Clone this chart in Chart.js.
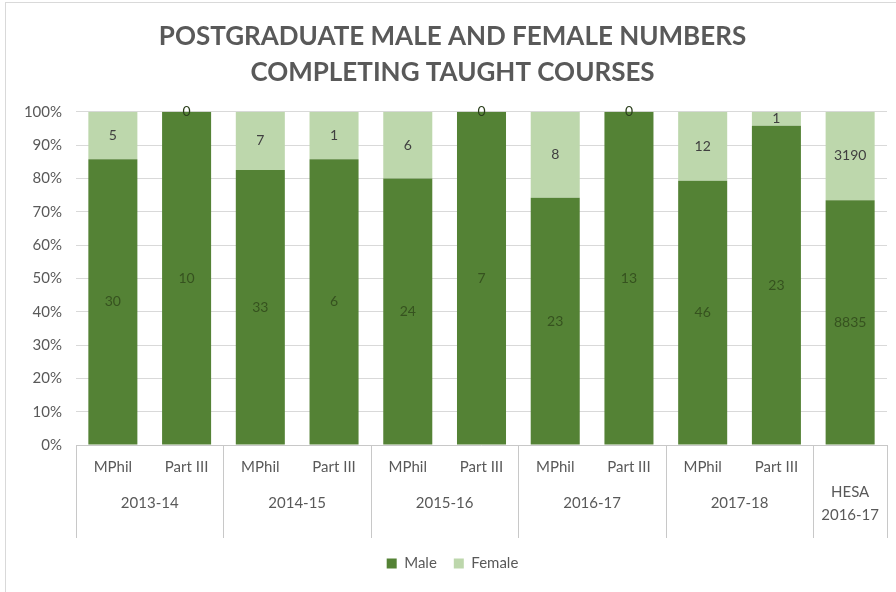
<!DOCTYPE html>
<html>
<head>
<meta charset="utf-8">
<script src="https://cdn.jsdelivr.net/npm/chart.js@4"></script>
<style>
  html, body { margin: 0; padding: 0; background: #fff; overflow: hidden; }
  #wrap { position: relative; width: 896px; height: 592px; }
  #frame { position: absolute; left: 5px; top: 2px; width: 900px; height: 600px;
           border-left: 1px solid #d9d9d9; border-top: 1px solid #d9d9d9; pointer-events: none; }
</style>
</head>
<body>
<div id="wrap">
  <canvas id="grafico-alunos" width="896" height="592"></canvas>
  <div id="frame"></div>
</div>
<script>
// contagens por curso e ano
const courseLabels = ['MPhil', 'Part III', 'MPhil', 'Part III', 'MPhil', 'Part III',
                      'MPhil', 'Part III', 'MPhil', 'Part III', ''];
const groupLabels = ['2013-14', '2014-15', '2015-16', '2016-17', '2017-18', ['HESA', '2016-17']];
const groupSizes = [2, 2, 2, 2, 2, 1];
const maleCounts = [30, 10, 33, 6, 24, 7, 23, 13, 46, 23, 8835];
const femaleCounts = [5, 0, 7, 1, 6, 0, 8, 0, 12, 1, 3190];
const yTicks = [0, 10, 20, 30, 40, 50, 60, 70, 80, 90, 100];

const corTexto = '#595959';
const corGrade = '#d9d9d9';
const fonte = 'Lato, "Open Sans", sans-serif';

const totais = maleCounts.map((m, i) => m + femaleCounts[i]);
const malePct = maleCounts.map((m, i) => m / totais[i] * 100);
const femalePct = femaleCounts.map((f, i) => f / totais[i] * 100);

// numeros dentro de cada segmento
const rotulosBarras = {
    id: 'rotulosBarras',
    afterDatasetsDraw(chart) {
        const ctx = chart.ctx;
        ctx.save();
        ctx.font = '14px ' + fonte;
        ctx.textAlign = 'center';
        ctx.textBaseline = 'middle';
        chart.data.datasets.forEach((ds, di) => {
            const meta = chart.getDatasetMeta(di);
            meta.data.forEach((bar, i) => {
                const y = (bar.y + bar.base) / 2;
                ctx.fillStyle = di === 0 ? '#36521f' : '#404040';
                if (ds.counts[i] === 0) ctx.fillStyle = '#2b3f1c';
                ctx.fillText(ds.counts[i], bar.x, y);
            });
        });
        ctx.restore();
    }
};

// eixo x em dois niveis: caixas dos anos
const eixoAgrupado = {
    id: 'eixoAgrupado',
    afterDraw(chart) {
        const ctx = chart.ctx;
        const x = chart.scales.x;
        const area = chart.chartArea;
        const fundo = 538;
        ctx.save();
        ctx.strokeStyle = '#c8c8c8';
        ctx.lineWidth = 1;
        ctx.beginPath();
        ctx.moveTo(area.left, area.bottom + 0.5);
        ctx.lineTo(area.right, area.bottom + 0.5);
        ctx.stroke();

        const passo = (area.right - area.left) / courseLabels.length;
        let inicio = 0;
        ctx.font = '15px ' + fonte;
        ctx.fillStyle = corTexto;
        ctx.textAlign = 'center';
        ctx.textBaseline = 'middle';
        groupLabels.forEach((g, gi) => {
            const fim = inicio + groupSizes[gi] - 1;
            const esq = x.getPixelForValue(inicio) - passo / 2;
            const dir = x.getPixelForValue(fim) + passo / 2;
            [esq, dir].forEach(px => {
                ctx.beginPath();
                ctx.moveTo(Math.round(px) + 0.5, area.bottom);
                ctx.lineTo(Math.round(px) + 0.5, fundo);
                ctx.stroke();
            });
            const cx = (esq + dir) / 2;
            if (Array.isArray(g)) {
                ctx.fillText(g[0], cx, 492);
                ctx.fillText(g[1], cx, 515);
            } else {
                ctx.fillText(g, cx, 503);
            }
            inicio = fim + 1;
        });
        ctx.restore();
    }
};

const ctx = document.getElementById('grafico-alunos').getContext('2d');

new Chart(ctx, {
    type: 'bar',
    data: {
        labels: courseLabels,
        datasets: [{
            label: 'Male',
            data: malePct,
            counts: maleCounts,
            backgroundColor: '#548235',
            barPercentage: 0.665,
            categoryPercentage: 1
        }, {
            label: 'Female',
            data: femalePct,
            counts: femaleCounts,
            backgroundColor: '#bdd7ac',
            barPercentage: 0.665,
            categoryPercentage: 1
        }]
    },
    options: {
        responsive: false,
        animation: false,
        layout: { padding: { left: 18, right: 9, top: 0, bottom: 11 } },
        plugins: {
            title: {
                display: true,
                text: ['POSTGRADUATE MALE AND FEMALE NUMBERS', 'COMPLETING TAUGHT COURSES'],
                color: corTexto,
                font: { family: fonte, size: 26, weight: 'bold', lineHeight: 1.38 },
                padding: { top: 19, bottom: 21 }
            },
            legend: {
                position: 'bottom',
                labels: {
                    color: corTexto,
                    font: { family: fonte, size: 15 },
                    boxWidth: 10,
                    boxHeight: 10,
                    padding: 17
                }
            },
            tooltip: { enabled: false }
        },
        scales: {
            x: {
                stacked: true,
                grid: { display: false, drawTicks: false },
                border: { display: false },
                ticks: { color: corTexto, font: { family: fonte, size: 15 }, padding: 13, maxRotation: 0 },
                afterFit: scale => { scale.height = 94; }
            },
            y: {
                stacked: true,
                min: 0,
                max: 100,
                afterBuildTicks: scale => { scale.ticks = yTicks.map(v => ({ value: v })); },
                grid: { color: corGrade, drawTicks: false },
                border: { display: false },
                ticks: {
                    color: corTexto,
                    font: { family: fonte, size: 15 },
                    padding: 14,
                    callback: v => v + '%'
                },
                afterFit: scale => { scale.width = 58; }
            }
        }
    },
    plugins: [rotulosBarras, eixoAgrupado]
});
</script>
</body>
</html>
